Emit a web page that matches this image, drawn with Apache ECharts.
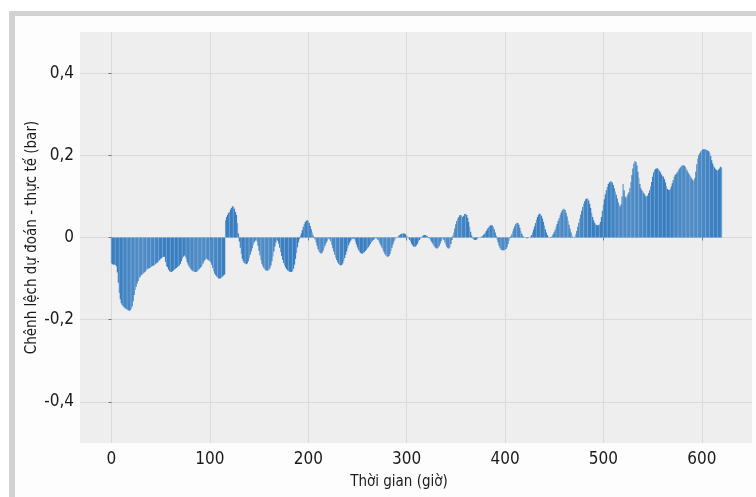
<!DOCTYPE html>
<html>
<head>
<meta charset="utf-8">
<script src="https://cdn.jsdelivr.net/npm/echarts@6/dist/echarts.min.js"></script>
<style>
  html, body { margin: 0; padding: 0; background: #ffffff; }
  #frame { position: absolute; left: 9px; top: 11px; width: 747px; height: 486px;
           border-top: 5px solid #d2d2d2; border-left: 6px solid #d2d2d2; background: #fdfdfd; box-sizing: border-box; }
  #chart { position: absolute; left: 0; top: 0; width: 756px; height: 497px; }
</style>
</head>
<body>
<div id="frame"></div>
<div id="chart"></div>
<script>
const seg000 = [-0.063,-0.065,-0.066,-0.066,-0.067,-0.07];
const seg006 = [-0.085,-0.11,-0.135,-0.15,-0.16,-0.165,-0.168];
const seg013 = [-0.17,-0.172,-0.174,-0.176,-0.177,-0.178,-0.177,-0.174];
const seg021 = [-0.168,-0.155,-0.14,-0.128,-0.12,-0.112,-0.106,-0.1,-0.096,-0.092];
const seg031 = [-0.09,-0.088,-0.086,-0.084,-0.08,-0.078,-0.076,-0.075,-0.074,-0.072];
const seg041 = [-0.07,-0.069,-0.068,-0.066,-0.064,-0.062,-0.06,-0.057,-0.055,-0.052];
const seg051 = [-0.05,-0.048,-0.047,-0.047,-0.06,-0.07];
const seg057 = [-0.072,-0.078,-0.082,-0.084,-0.084,-0.082,-0.08,-0.078,-0.076];
const seg066 = [-0.074,-0.072,-0.07,-0.068,-0.064,-0.058,-0.052,-0.047,-0.043,-0.046];
const seg076 = [-0.052,-0.06,-0.066,-0.071,-0.075,-0.078,-0.08,-0.082,-0.083,-0.084];
const seg086 = [-0.084,-0.082,-0.08,-0.077,-0.074,-0.072,-0.068,-0.063,-0.058,-0.054];
const seg096 = [-0.051,-0.052,-0.054,-0.056,-0.058,-0.06,-0.066,-0.074,-0.082,-0.088];
const seg106 = [-0.092,-0.095,-0.098,-0.1,-0.1,-0.099,-0.097,-0.095,-0.092,-0.09];
const seg116 = [0.042,0.05,0.055,0.06,0.062,0.068,0.072,0.076,0.075,0.07,0.062,0.055,0.035,0.01];
const seg130 = [-0.01,-0.025,-0.04,-0.052,-0.058,-0.062,-0.064,-0.065,-0.063,-0.058,-0.05,-0.042,-0.034,-0.026,-0.018,-0.012,-0.008,-0.005];
const seg148 = [-0.01,-0.02,-0.032,-0.044,-0.055,-0.064,-0.07,-0.075,-0.078,-0.08,-0.08,-0.08,-0.079,-0.075,-0.068,-0.058,-0.046,-0.034,-0.022,-0.012,-0.006];
const seg169 = [-0.008,-0.015,-0.025,-0.035,-0.045,-0.054,-0.062,-0.068,-0.073,-0.077,-0.08,-0.082,-0.083,-0.084,-0.084,-0.082,-0.076,-0.066,-0.052,-0.038,-0.024,-0.012,-0.004];
const seg192 = [0.004,0.01,0.018,0.026,0.033,0.038,0.041,0.042,0.04,0.035,0.028,0.02,0.012,0.005,0.001];
const seg207 = [-0.005,-0.012,-0.02,-0.028,-0.034,-0.038,-0.039,-0.037,-0.032,-0.026,-0.02,-0.014,-0.009,-0.005,-0.002];
const seg222 = [-0.004,-0.01,-0.018,-0.026,-0.034,-0.042,-0.049,-0.055,-0.06,-0.064,-0.067,-0.068,-0.067,-0.063,-0.057,-0.05,-0.042,-0.034,-0.026,-0.019,-0.013,-0.008,-0.005,-0.003,-0.002];
const seg247 = [-0.004,-0.01,-0.017,-0.024,-0.03,-0.034,-0.037,-0.039,-0.039,-0.038,-0.036,-0.033,-0.03,-0.027,-0.024,-0.02,-0.016,-0.012,-0.009,-0.006,-0.004,-0.002,-0.001];
const seg270 = [-0.003,-0.006,-0.01,-0.015,-0.02,-0.025,-0.03,-0.035,-0.04,-0.044,-0.046,-0.047,-0.045,-0.04,-0.033,-0.025,-0.017,-0.01,-0.005,-0.002];
const seg290 = [0,0.002,0.004,0.006,0.008,0.009,0.01,0.01,0.009,0.007,0.004,0.001,-0.002,-0.006];
const seg304 = [-0.01,-0.015,-0.019,-0.022,-0.023,-0.022,-0.019,-0.015,-0.01,-0.006,-0.002];
const seg315 = [0.001,0.003,0.005,0.006,0.006,0.005,0.003,0.001,-0.002];
const seg324 = [-0.005,-0.009,-0.013,-0.017,-0.021,-0.024,-0.026,-0.027,-0.025,-0.021,-0.015,-0.009,-0.004];
const seg337 = [-0.002,-0.006,-0.012,-0.018,-0.023,-0.026,-0.027,-0.024,-0.016,-0.006];
const seg347 = [0.004,0.012,0.022,0.032,0.04,0.046,0.05,0.054,0.055,0.052,0.05,0.053,0.057,0.058,0.055,0.048,0.038,0.026,0.014,0.005];
const seg367 = [-0.002,-0.004,-0.006,-0.006,-0.005,-0.003,-0.001,0,0.001,0.002,0.003,0.006];
const seg379 = [0.009,0.012,0.016,0.02,0.024,0.027,0.029,0.03,0.029,0.026,0.02,0.012,0.004];
const seg392 = [-0.005,-0.012,-0.02,-0.026,-0.03,-0.031,-0.031,-0.031,-0.03,-0.028,-0.024,-0.016,-0.008,-0.002];
const seg406 = [0.003,0.008,0.015,0.022,0.028,0.033,0.036,0.035,0.031,0.024,0.016,0.009,0.004,0.001];
const seg420 = [0,-0.001,-0.002,-0.002,-0.001,0,0.002];
const seg427 = [0.006,0.012,0.019,0.027,0.035,0.043,0.05,0.055,0.058,0.057,0.053,0.046,0.038,0.029,0.02,0.012,0.006,0.002,0,-0.001];
const seg447 = [0.001,0.004,0.008,0.013,0.019,0.026,0.033,0.04,0.047,0.054,0.06,0.065,0.069,0.07,0.067,0.06,0.051,0.041,0.031,0.021,0.012,0.005,0.001,0];
const seg471 = [0.002,0.008,0.016,0.026,0.036,0.046,0.056,0.065,0.074,0.082,0.088,0.093,0.095,0.094,0.09,0.082,0.072,0.06,0.05,0.042,0.036,0.032,0.03,0.03];
const seg495 = [0.03,0.032,0.038,0.05,0.065,0.08,0.093,0.105,0.115,0.123,0.13,0.134,0.136,0.136,0.134,0.128,0.12,0.112];
const seg513 = [0.104,0.095,0.085,0.078,0.075,0.08,0.1,0.13,0.115,0.1,0.095,0.1,0.105,0.11];
const seg527 = [0.12,0.135,0.152,0.168,0.18,0.186,0.184,0.175,0.16,0.145,0.13,0.12,0.115,0.112];
const seg541 = [0.108,0.104,0.1,0.1,0.102,0.108,0.115,0.124,0.135,0.148];
const seg551 = [0.158,0.164,0.167,0.168,0.168,0.166,0.162,0.158,0.153,0.15,0.148,0.142,0.134,0.125,0.118,0.116];
const seg567 = [0.115,0.118,0.124,0.132,0.14,0.148,0.152,0.155,0.158,0.162,0.166,0.17,0.173,0.175,0.176];
const seg582 = [0.175,0.172,0.168,0.163,0.158,0.154,0.15,0.146,0.142,0.139,0.137];
const seg593 = [0.145,0.16,0.178,0.192,0.2,0.205,0.209,0.212,0.214,0.215,0.215,0.214,0.213,0.211,0.21,0.206];
const seg609 = [0.198,0.188,0.18,0.174,0.17,0.166,0.164,0.163,0.165,0.168,0.172,0.17];

const xTickValues = [0, 100, 200, 300, 400, 500, 600];
const yTickValues = [-0.4, -0.2, 0, 0.2, 0.4];
const xTitle = 'Thời gian (giờ)';
const yTitle = 'Chênh lệch dự đoán - thực tế (bar)';

const diffValues = [].concat(seg000, seg006, seg013, seg021, seg031, seg041, seg051, seg057, seg066,
  seg076, seg086, seg096, seg106, seg116, seg130, seg148, seg169, seg192, seg207, seg222, seg247,
  seg270, seg290, seg304, seg315, seg324, seg337, seg347, seg367, seg379, seg392, seg406, seg420,
  seg427, seg447, seg471, seg495, seg513, seg527, seg541, seg551, seg567, seg582, seg593, seg609);

const seriesData = diffValues.map((v, i) => [i, v]);

const FONT = '"DejaVu Sans Condensed", "Liberation Sans Narrow", "Noto Sans", sans-serif';

const chart = echarts.init(document.getElementById('chart'), null, { renderer: 'canvas' });
chart.setOption({
  backgroundColor: 'transparent',
  animation: false,
  grid: { left: 80, right: 4, top: 32, bottom: 54, show: true, backgroundColor: '#eeeeee', borderWidth: 0 },
  xAxis: {
    type: 'value', min: -32, max: 651,
    name: xTitle, nameLocation: 'middle', nameGap: 32,
    nameTextStyle: { fontFamily: FONT, fontSize: 15, color: '#1a1a1a', padding: [0, 34, 0, 0] },
    axisLine: { show: false },
    axisTick: { show: true, length: 3, lineStyle: { color: '#777' }, customValues: xTickValues },
    axisLabel: { customValues: xTickValues, fontFamily: FONT, fontSize: 17, color: '#1a1a1a', margin: 8 },
    splitLine: { show: true, lineStyle: { color: '#dadada', width: 1 } }
  },
  yAxis: {
    type: 'value', min: -0.5, max: 0.5,
    name: yTitle, nameLocation: 'middle', nameGap: 40, nameRotate: 90, nameMoveOverlap: false,
    nameTextStyle: { fontFamily: FONT, fontSize: 15, color: '#1a1a1a' },
    axisLine: { show: false },
    axisTick: { show: true, length: 3, lineStyle: { color: '#777' }, customValues: yTickValues },
    axisLabel: {
      customValues: yTickValues, fontFamily: FONT, fontSize: 17, color: '#1a1a1a', margin: 6,
      formatter: v => (v === 0 ? '0' : String(v).replace('.', ','))
    },
    splitLine: { show: true, lineStyle: { color: '#dadada', width: 1 } }
  },
  series: [{
    type: 'bar',
    data: seriesData,
    barWidth: 1.3,
    itemStyle: { color: p => (p.dataIndex % 4 === 0 ? '#6a9fd2' : '#3b7fc0') }
  }]
});
</script>
</body>
</html>
